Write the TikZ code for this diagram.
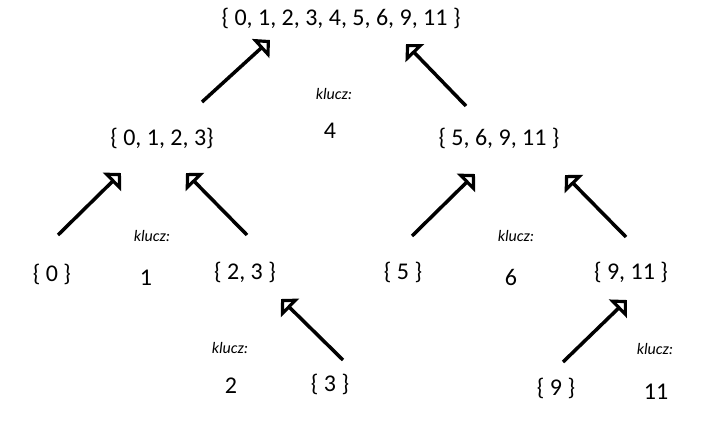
\documentclass[tikz,border=0pt]{standalone}
\usepackage{fontspec}
\setmainfont{Carlito}
\usetikzlibrary{arrows.meta}

\begin{document}
\begin{tikzpicture}[x=1pt,y=-1pt,
        set/.style={font=\fontsize{24}{28}\selectfont, black, inner sep=0pt},
        key/.style={font=\fontsize{16}{19}\selectfont\itshape, black, inner sep=0pt},
        up/.style={line width=3.5pt, -{Triangle[open, angle=90:18pt, line width=3.5pt]}}]
        \useasboundingbox (0,0) rectangle (723,422);

        % sets
        \node[set] (root) at (341, 18) {\{ 0, 1, 2, 3, 4, 5, 6, 9, 11 \}};
        \node[set] (L) at (162, 138) {\{ 0, 1, 2, 3\}};
        \node[set] (R) at (499, 138) {\{ 5, 6, 9, 11 \}};
        \node[set] (LL) at (52, 274) {\{ 0 \}};
        \node[set] (LR) at (245, 272) {\{ 2, 3 \}};
        \node[set] (RL) at (403, 272) {\{ 5 \}};
        \node[set] (RR) at (631, 272) {\{ 9, 11 \}};
        \node[set] (LRR) at (330, 384) {\{ 3 \}};
        \node[set] (RRL) at (556, 388) {\{ 9 \}};

        % keys
        \node[key] (k4) at (334, 94) {klucz:};
        \node[set] (v4) at (330, 131) {4};
        \node[key] (k1) at (152, 236) {klucz:};
        \node[set] (v1) at (146, 278) {1};
        \node[key] (k6) at (516, 236) {klucz:};
        \node[set] (v6) at (511, 277) {6};
        \node[key] (k2) at (230, 348) {klucz:};
        \node[set] (v2) at (231, 386) {2};
        \node[key] (k11) at (655, 349) {klucz:};
        \node[set] (v11) at (656, 392) {11};

        % arrows
        \coordinate (aL) at (202, 102);  \coordinate (hL) at (270, 40);
        \coordinate (aR) at (466, 106);  \coordinate (hR) at (406, 44);
        \coordinate (aLL) at (58, 235);  \coordinate (hLL) at (121, 173);
        \coordinate (aLR) at (247, 235); \coordinate (hLR) at (186, 173);
        \coordinate (aRL) at (412, 236); \coordinate (hRL) at (475, 174);
        \coordinate (aRR) at (626, 237); \coordinate (hRR) at (565, 175);
        \coordinate (aLRR) at (343, 360); \coordinate (hLRR) at (281, 299);
        \coordinate (aRRL) at (563, 362); \coordinate (hRRL) at (627, 300);

        \draw[up] (aL) -- (hL);
        \draw[up] (aR) -- (hR);
        \draw[up] (aLL) -- (hLL);
        \draw[up] (aLR) -- (hLR);
        \draw[up] (aRL) -- (hRL);
        \draw[up] (aRR) -- (hRR);
        \draw[up] (aLRR) -- (hLRR);
        \draw[up] (aRRL) -- (hRRL);
\end{tikzpicture}
\end{document}
